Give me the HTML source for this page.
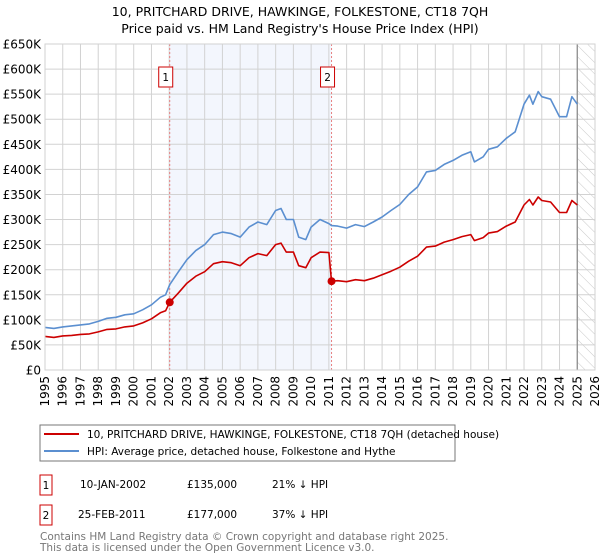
<!DOCTYPE html>
<html><head><meta charset="utf-8"><style>
body{margin:0;background:#fff;font-family:"DejaVu Sans","Liberation Sans",sans-serif;}
#wrap{position:relative;width:600px;height:560px;overflow:hidden}
</style></head><body>
<div id="wrap">
<svg id="chart" width="600" height="560" xmlns="http://www.w3.org/2000/svg" font-family="DejaVu Sans, Liberation Sans, sans-serif">
<text x="300" y="16" text-anchor="middle" font-size="12.5" fill="#000">10, PRITCHARD DRIVE, HAWKINGE, FOLKESTONE, CT18 7QH</text>
<text x="300" y="33" text-anchor="middle" font-size="12.5" fill="#000">Price paid vs. HM Land Registry's House Price Index (HPI)</text>
<g id="plot"></g>
<rect x="40" y="425" width="415" height="36" fill="#fff" stroke="#777"/>
<line x1="44" y1="434" x2="79" y2="434" stroke="#cc0000" stroke-width="2"/>
<text x="87" y="438" font-size="10.5">10, PRITCHARD DRIVE, HAWKINGE, FOLKESTONE, CT18 7QH (detached house)</text>
<line x1="44" y1="451" x2="79" y2="451" stroke="#5b8fd0" stroke-width="2"/>
<text x="87" y="455" font-size="10.5">HPI: Average price, detached house, Folkestone and Hythe</text>
<rect x="40" y="475" width="12" height="20" fill="#fff" stroke="#cc0000"/>
<text x="46" y="489" text-anchor="middle" font-size="10.5">1</text>
<text x="80" y="488" font-size="10.5">10-JAN-2002</text>
<text x="187" y="488" font-size="10.5">£135,000</text>
<text x="272" y="488" font-size="10.5">21% ↓ HPI</text>
<rect x="40" y="505" width="12" height="20" fill="#fff" stroke="#cc0000"/>
<text x="46" y="519" text-anchor="middle" font-size="10.5">2</text>
<text x="78" y="518" font-size="10.5">25-FEB-2011</text>
<text x="187" y="518" font-size="10.5">£177,000</text>
<text x="272" y="518" font-size="10.5">37% ↓ HPI</text>
<text x="40" y="540" font-size="10.5" fill="#777">Contains HM Land Registry data © Crown copyright and database right 2025.</text>
<text x="40" y="551" font-size="10.5" fill="#777">This data is licensed under the Open Government Licence v3.0.</text>
</svg>
</div>
<script>
const dates=[1995.0,1995.5,1996.0,1996.5,1997.0,1997.5,1998.0,1998.5,1999.0,1999.5,2000.0,2000.5,2001.0,2001.5,2001.8,2002.03,2002.5,2003.0,2003.5,2004.0,2004.5,2005.0,2005.5,2006.0,2006.5,2007.0,2007.5,2008.0,2008.3,2008.6,2009.0,2009.3,2009.7,2010.0,2010.5,2011.0,2011.15,2011.5,2012.0,2012.5,2013.0,2013.5,2014.0,2014.5,2015.0,2015.5,2016.0,2016.5,2017.0,2017.5,2018.0,2018.5,2019.0,2019.2,2019.7,2020.0,2020.5,2021.0,2021.5,2022.0,2022.3,2022.5,2022.8,2023.0,2023.5,2024.0,2024.4,2024.7,2025.0];
const hpiValues=[85,83,86,88,90,92,97,103,105,110,112,120,130,145,150,170,195,220,238,250,270,275,272,265,285,295,290,318,322,300,300,265,260,285,300,292,288,287,283,290,286,295,305,318,330,350,365,395,398,410,418,428,435,415,425,440,445,462,475,530,548,530,555,545,540,505,505,545,530];
const propertyValues=[67,65,68,69,71,72,76,81,82,86,88,94,102,114,118,135,153,173,187,196,212,216,214,208,224,232,228,250,253,235,235,208,204,224,235,234,177,178,176,180,178,183,190,197,205,217,227,245,247,255,260,266,270,258,264,273,276,287,295,329,340,329,345,338,335,314,314,338,329];
const saleDates=[2002.03,2011.15];
const salePrices=[135,177];
const saleLabels=["1","2"];
const yTicks=[0,50,100,150,200,250,300,350,400,450,500,550,600,650];
const yTickLabels=["£0","£50K","£100K","£150K","£200K","£250K","£300K","£350K","£400K","£450K","£500K","£550K","£600K","£650K"];
const xTicks=[1995,1996,1997,1998,1999,2000,2001,2002,2003,2004,2005,2006,2007,2008,2009,2010,2011,2012,2013,2014,2015,2016,2017,2018,2019,2020,2021,2022,2023,2024,2025,2026];
const dataEnd=2025;

const L=45,R=595,T=44,B=370,X0=1995,X1=2026,Y1=650;
const xs=v=>L+(v-X0)/(X1-X0)*(R-L);
const ys=v=>B-v/Y1*(B-T);
const NS="http://www.w3.org/2000/svg";
const g=document.getElementById('plot');
function mk(tag,attrs,parent){const e=document.createElementNS(NS,tag);for(const k in attrs)e.setAttribute(k,attrs[k]);(parent||g).appendChild(e);return e;}

let band=mk('rect',{x:xs(saleDates[0]),y:T,width:xs(saleDates[1])-xs(saleDates[0]),height:B-T,fill:'#f3f6fd'});


const defs=mk('defs',{});
const pat=mk('pattern',{id:'hatch',width:8,height:8,patternUnits:'userSpaceOnUse',patternTransform:'rotate(-45)'},defs);
mk('line',{x1:0,y1:0,x2:0,y2:8,stroke:'#c8c8c8','stroke-width':1},pat);
let hr=mk('rect',{x:xs(dataEnd),y:T,width:R-xs(dataEnd),height:B-T,fill:'url(#hatch)'});


xTicks.forEach((t,i)=>{
  let l=mk('line',{x1:xs(t),y1:T,x2:xs(t),y2:B,stroke:'#d2d2d2','stroke-width':1});
  
  
  let tx=mk('text',{x:xs(t)+4,y:B+6,'font-size':12,'text-anchor':'end',transform:`rotate(-90 ${xs(t)+4} ${B+6})`});
  tx.textContent=t;
  
  
});
yTicks.forEach((t,i)=>{
  let l=mk('line',{x1:L,y1:ys(t),x2:R,y2:ys(t),stroke:'#d2d2d2','stroke-width':1});
  
  
  let tx=mk('text',{x:L-4,y:ys(t)+4.5,'font-size':12,'text-anchor':'end'});
  tx.textContent=yTickLabels[i];
  
  
});
let dl=mk('line',{x1:xs(dataEnd),y1:T,x2:xs(dataEnd),y2:B,stroke:'#888','stroke-width':1.2});


saleDates.forEach((d,i)=>{
  let l=mk('line',{x1:xs(d),y1:T,x2:xs(d),y2:B,stroke:'#e88080','stroke-width':1,'stroke-dasharray':'2,2'});
  
  
  let bx=mk('rect',{x:xs(d)-11,y:67,width:14,height:20,fill:'#fff',stroke:'#cc0000'});
  
  
  let tx=mk('text',{x:xs(d)-4,y:81,'font-size':10.5,'text-anchor':'middle'});
  tx.textContent=saleLabels[i];
  
  
});
function path(vals){return vals.map((v,i)=>(i?'L':'M')+xs(dates[i]).toFixed(1)+','+ys(v).toFixed(1)).join('');}
let hp=mk('path',{d:path(hpiValues),fill:'none',stroke:'#5b8fd0','stroke-width':1.6,'stroke-linejoin':'round'});


let pp=mk('path',{d:path(propertyValues),fill:'none',stroke:'#cc0000','stroke-width':1.6,'stroke-linejoin':'round'});


saleDates.forEach((d,i)=>{
  let c=mk('circle',{cx:xs(d),cy:ys(salePrices[i]),r:4,fill:'#cc0000'});
  
  
});
let ax=mk('rect',{x:L,y:T,width:R-L,height:B-T,fill:'none',stroke:'#d2d2d2'});


</script>
</body></html>
